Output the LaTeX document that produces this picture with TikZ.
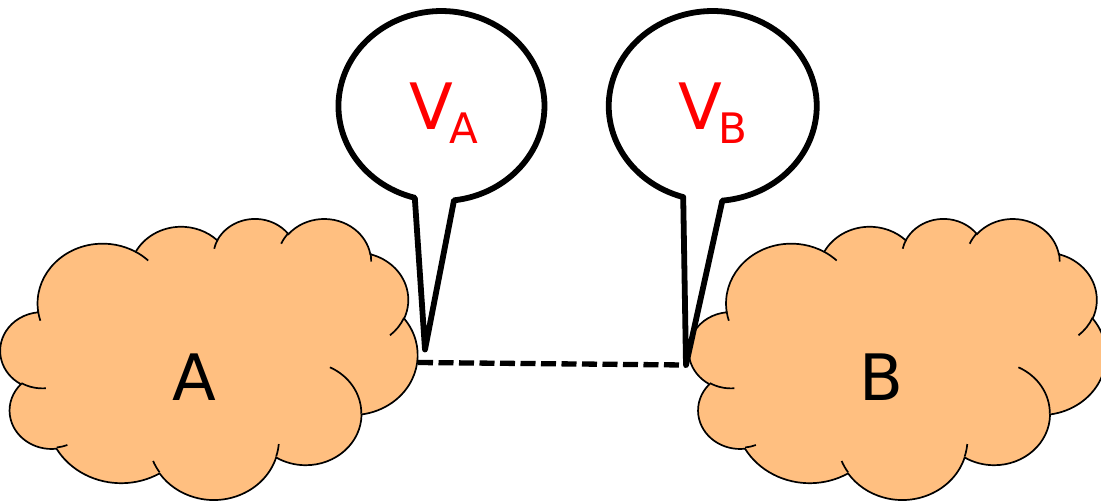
\documentclass[tikz,border=0pt]{standalone}
\usepackage{fontspec}
\setmainfont{DejaVu Sans}
\definecolor{cloudfill}{HTML}{FFBF80}
\definecolor{vred}{HTML}{FF0000}
\newcommand\cloudcalc[4]{%
  \pgfmathsetmacro\cldS{atan2((#1)*sin(#3),(#2)*cos(#3))}%
  \pgfmathsetmacro\cldT{atan2((#1)*sin((#3)+(#4)),(#2)*cos((#3)+(#4)))}%
  \pgfmathsetmacro\cldE{\cldS+mod(\cldT-\cldS+720,360)}%
  \global\let\cldS\cldS \global\let\cldE\cldE}
\newcommand\carc[4]{\pgfextra{\cloudcalc{#1}{#2}{#3}{#4}} arc[x radius=#1, y radius=#2, start angle=\cldS, end angle=\cldE]}
\newcommand\cloudshape{%
  \filldraw[cloudline] (39.00,143.70)
    \carc{67.53}{91.90}{-190.4875}{123.7805}
    \carc{53.33}{72.67}{-144.1024}{89.9452}
    \carc{43.65}{59.45}{-145.8079}{99.7230}
    \carc{48.57}{65.95}{-130.9861}{117.2417}
    \carc{53.33}{72.73}{-78.7089}{109.0269}
    \carc{67.75}{92.20}{-46.2673}{130.2690}
    \carc{57.85}{78.67}{0.6250}{114.0333}
    \carc{67.52}{92.15}{22.4516}{115.1726}
    \carc{77.20}{105.43}{66.2426}{75.7110}
    \carc{43.60}{59.18}{-274.9421}{146.7356}
    \carc{43.45}{59.45}{-246.8285}{152.5189}
    -- cycle;
  \draw[cloudline]
    (46.93,261.77) \carc{43.45}{59.45}{86.7420}{26.4295}
    (69.28,348.99) \carc{43.60}{59.18}{73.6105}{11.4475}
    (164.78,390.90) \carc{67.52}{92.15}{137.6242}{14.0811}
    (288.27,347.51) \carc{67.52}{92.15}{6.4533}{15.9984}
    (341.29,229.54) \carc{57.85}{78.67}{-70.2924}{70.9174}
    (417.98,153.54) \carc{53.33}{72.73}{30.3180}{27.7515}
    (383.24,54.26) \carc{48.57}{65.95}{-13.7443}{14.8589}
    (290.78,39.52) \carc{48.57}{65.95}{-149.1815}{18.1954}
    (221.41,47.20) \carc{43.65}{59.45}{-163.4943}{17.6864}
    (140.00,51.92) \carc{67.53}{91.90}{-66.7070}{12.3194}
    (41.27,157.89) \carc{67.53}{91.90}{157.6544}{11.8582};
}
\tikzset{
  cloudline/.style={draw=black, fill=cloudfill, line width=1.7pt},
  bubble/.style={draw=black, fill=white, line width=5.8pt, line join=round},
  dashline/.style={draw=black, line width=5.3pt, dash pattern=on 15pt off 5.5pt},
  lbl/.style={inner sep=0pt, font=\fontsize{64}{70}\selectfont, text=black},
  vtext/.style={inner sep=0pt, font=\fontsize{64}{70}\selectfont, text=vred}
}
\begin{document}
\begin{tikzpicture}[x=1pt, y=-1pt]
  \useasboundingbox (0,0) rectangle (1101,501);
  % clouds
  \begin{scope}[shift={(0.5,218)}, x=0.96528pt, y=-0.65046pt]
    \cloudshape
  \end{scope}
  \begin{scope}[shift={(689,218)}, x=0.96528pt, y=-0.65046pt]
    \cloudshape
  \end{scope}
  \node[lbl, anchor=base] (labA) at (194,400) {A};
  \node[lbl, anchor=base] (labB) at (881,400) {B};
  % connection points
  \coordinate (edgeA) at (418,362.5);
  \coordinate (tipA) at (425,349.5);
  \coordinate (tipB) at (686,365);
  % speech bubbles
  \draw[bubble] (414.8,197.8) arc[x radius=103, y radius=95, start angle=105, end angle=443] -- (tipA) -- cycle;
  \draw[bubble] (683.2,197.1) arc[x radius=104, y radius=95, start angle=106.5, end angle=444.7] -- (tipB) -- cycle;
  \node[vtext, anchor=base west] (vA) at (409,129) {V\kern-3pt\raisebox{-14pt}{\fontsize{42}{42}\selectfont A}};
  \node[vtext, anchor=base west] (vB) at (678,129) {V\kern-3pt\raisebox{-14pt}{\fontsize{42}{42}\selectfont B}};
  % dashed connection
  \draw[dashline] (edgeA) -- (tipB);
\end{tikzpicture}
\end{document}
